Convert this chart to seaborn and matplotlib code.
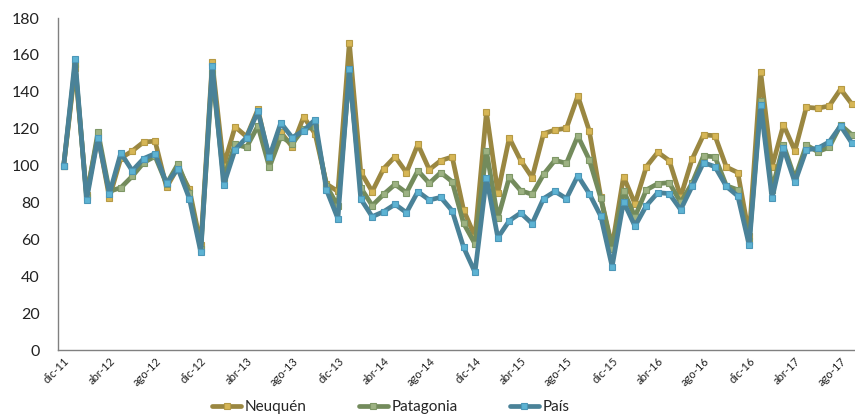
import matplotlib
matplotlib.use("Agg")
import matplotlib.pyplot as plt
import seaborn as sns
import pandas as pd

# Monthly index (dic-11 = 100), dic-11 .. sep-17
meses_abr = ["ene", "feb", "mar", "abr", "may", "jun", "jul", "ago", "sep", "oct", "nov", "dic"]
periodos = ["dic-11"] + [f"{m}-{a}" for a in range(12, 18) for m in meses_abr][:69]

neuquen = [100, 153, 84, 116, 82.6, 104, 107.9, 112.8, 113.2, 88.2, 99, 87.1, 57,
           156, 100, 121, 115.7, 130.5, 103, 118, 110.3, 126.4, 117.3, 90, 86,
           166.7, 96.5, 85.9, 98.3, 104.8, 96.2, 111.5, 97.8, 102.7, 104.7, 75.9, 61.5,
           129, 85.3, 115, 102.7, 93.5, 117.3, 119.3, 120.2, 137.7, 118.9, 83.1, 56,
           94, 79.3, 99.4, 107.2, 102.7, 83.1, 103.4, 116.6, 116.2, 99.2, 96.2, 62,
           150.9, 99.4, 122, 108.1, 131.6, 131.1, 132.3, 141.4, 133.2]
patagonia = [100, 155, 83, 118.2, 86, 88, 94.2, 101.6, 105, 90, 100.9, 85.3, 55,
             150, 93, 111.5, 109.9, 121.5, 99.1, 115.7, 111.9, 120, 120.8, 89, 78,
             150, 88, 78.3, 84.4, 89.8, 85.3, 97.2, 90.4, 96.2, 91.3, 68.7, 57.5,
             107.9, 71.4, 93.6, 86.4, 84.4, 95.2, 102.9, 101.2, 116, 103.2, 82.6, 54.6,
             86.4, 72.3, 86.8, 90.2, 90.7, 80, 90.4, 105.2, 104.8, 89.1, 86.8, 59,
             135, 87, 111.2, 93, 111.2, 107.5, 109.9, 122, 116.6]
pais = [100, 157.6, 81.3, 115.2, 84.8, 106.8, 97.2, 103.8, 106.5, 90.4, 98.3, 82.1, 53,
        154.2, 89.5, 108.6, 115.2, 129.4, 104.7, 123.1, 115.2, 118.9, 124.9, 86.8, 71.2,
        152.2, 81.9, 72.3, 75, 79, 74.5, 85.9, 81.3, 82.8, 75.5, 55.7, 42.1,
        93.3, 60.9, 70.1, 74.3, 68.5, 82.1, 86, 82.1, 94.5, 84.8, 72.7, 45.2,
        80.4, 67.1, 78.3, 85.3, 84.8, 76.1, 88.7, 101.6, 99.4, 88.7, 83.5, 56.7,
        132.9, 82.3, 109.4, 90.9, 108.5, 109.4, 112.8, 121.5, 112.1]

series = ["Neuquén", "Patagonia", "País"]
line_colors = ["#9A8741", "#738B5C", "#4A8298"]
marker_faces = ["#D6B656", "#9DB283", "#5DB3D3"]
marker_edges = ["#B59A45", "#7E9766", "#4C97B8"]

n = len(periodos)
df = pd.DataFrame({
    "idx": list(range(n)) * 3,
    "valor": neuquen + patagonia + pais,
    "serie": [s for s in series for _ in range(n)],
})

sns.set_theme(style="white")
plt.rcParams["font.family"] = ["Lato", "DejaVu Sans"]

fig = plt.figure(figsize=(8.55, 4.15), dpi=100)
ax = fig.add_axes([58 / 855, (415 - 350) / 415, 1 - 58 / 855, 332 / 415])

for s, lc, mf, me in zip(series, line_colors, marker_faces, marker_edges):
    sub = df[df["serie"] == s]
    sns.lineplot(data=sub, x="idx", y="valor", ax=ax, color=lc, linewidth=3.4,
                 marker="s", markersize=5, markerfacecolor=mf,
                 markeredgecolor=me, markeredgewidth=0.8, label=s,
                 solid_joinstyle="round", solid_capstyle="round", clip_on=False)

ax.set_xlim(-0.5, 69.26)
ax.set_ylim(0, 180)
ax.set_yticks(range(0, 181, 20))
ax.set_yticklabels([str(v) for v in range(0, 181, 20)], fontsize=11.5, color="#222222")
xt = list(range(0, n, 4))
ax.set_xticks(xt)
ax.set_xticklabels([periodos[i] for i in xt], rotation=45, ha="right",
                   rotation_mode="anchor", fontsize=8, color="#222222")
ax.tick_params(axis="both", length=0)
ax.tick_params(axis="x", pad=4)
ax.tick_params(axis="y", pad=13)
ax.set_xlabel("")
ax.set_ylabel("")

for side in ["top", "right"]:
    ax.spines[side].set_visible(False)
for side in ["left", "bottom"]:
    ax.spines[side].set_color("#808080")
    ax.spines[side].set_linewidth(1.0)

ax.legend(loc="center left", bbox_to_anchor=(212 / 855, 8 / 415), bbox_transform=fig.transFigure,
          ncol=3, frameon=False, fontsize=11, handlelength=1.9, handletextpad=0.25,
          columnspacing=3.4, borderaxespad=0, borderpad=0)

fig.savefig("out.png", dpi=100)
